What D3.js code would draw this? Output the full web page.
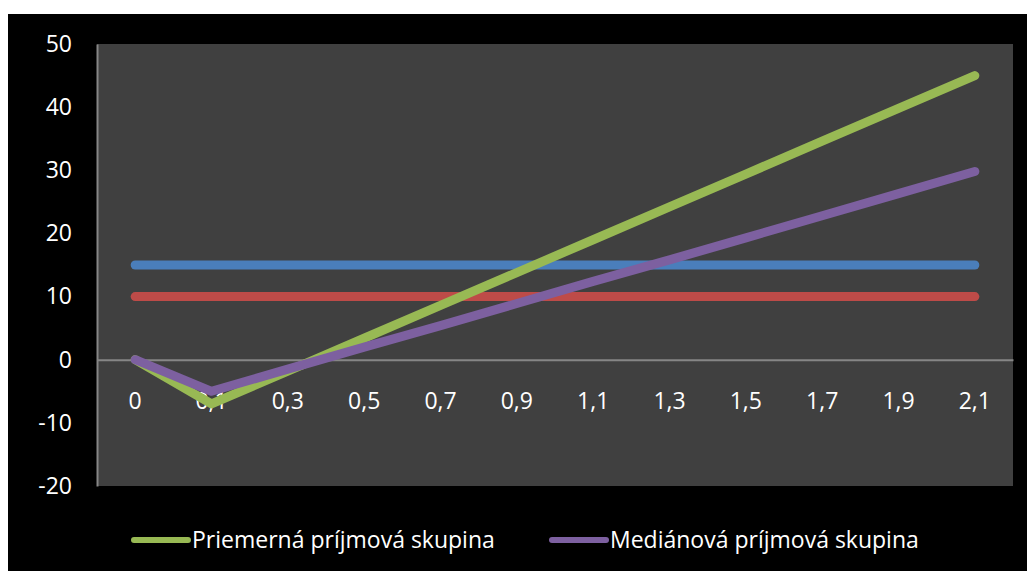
<!DOCTYPE html>
<html>
<head>
<meta charset="utf-8">
<script src="https://cdn.jsdelivr.net/npm/d3@7"></script>
<style>
html,body{margin:0;padding:0;background:#fff;}
svg{display:block;}
text{font-family:"Open Sans",sans-serif;fill:#ffffff;}
</style>
</head>
<body>
<svg id="chart" width="1027" height="571"></svg>
<script>
// ---- data ----
const categories = ["0","0,1","0,3","0,5","0,7","0,9","1,1","1,3","1,5","1,7","1,9","2,1"];
const blueValues   = [15,15,15,15,15,15,15,15,15,15,15,15];
const redValues    = [10,10,10,10,10,10,10,10,10,10,10,10];
const greenValues  = [0,-7,-1.8,3.4,8.6,13.8,19,24.2,29.4,34.6,39.8,45];
const purpleValues = [0,-5,-1.5,2,5.4,8.9,12.4,15.8,19.3,22.8,26.3,29.8];
const yTicks = [-20,-10,0,10,20,30,40,50];
const seriesNames = ["Priemerná príjmová skupina","Mediánová príjmová skupina"];

const series = [
  {key:"blue", values: blueValues, color:"#4A7EBB", legend:false},
  {key:"red", values: redValues, color:"#BE4B48", legend:false},
  {key:"green", values: greenValues, color:"#98B954", legend:true, name: seriesNames[0]},
  {key:"purple", values: purpleValues, color:"#7D60A0", legend:true, name: seriesNames[1]}
];

const FONT = "'Open Sans', sans-serif";
const svg = d3.select("#chart");
// outer black chart area
svg.append("rect").attr("x",8).attr("y",14).attr("width",1019).attr("height",557).attr("fill","#000");

const plot = {left:97, top:44, right:1013, bottom:486};

const x = d3.scaleBand().domain(categories).range([plot.left, plot.right]).paddingInner(0).paddingOuter(0);
const y = d3.scaleLinear().domain([-20,50]).range([plot.bottom, plot.top]);

svg.append("rect").attr("x",plot.left).attr("y",plot.top)
  .attr("width",plot.right-plot.left).attr("height",plot.bottom-plot.top).attr("fill","#404040");

// y axis
const yAxis = svg.append("g").attr("transform",`translate(${plot.left},0)`)
  .call(d3.axisLeft(y).tickValues(yTicks).tickSize(0).tickPadding(25).tickFormat(d=>String(d)));
yAxis.select(".domain").attr("stroke","#868686").attr("stroke-width",2);
yAxis.selectAll("text").attr("font-size",23).attr("fill","#fff").attr("font-family",FONT);

// x axis at zero
const xAxis = svg.append("g").attr("transform",`translate(0,${y(0)})`)
  .call(d3.axisBottom(x).tickSize(0).tickPadding(33));
xAxis.select(".domain").attr("stroke","#868686").attr("stroke-width",2);
xAxis.selectAll("text").attr("font-size",23).attr("fill","#fff").attr("font-family",FONT);

// lines
const line = d3.line()
  .x((d,i)=>x(categories[i]) + x.bandwidth()/2)
  .y(d=>y(d));

svg.append("g").selectAll("path").data(series).join("path")
  .attr("d",d=>line(d.values))
  .attr("fill","none")
  .attr("stroke",d=>d.color)
  .attr("stroke-width",9)
  .attr("stroke-linecap","round")
  .attr("stroke-linejoin","round");

// legend
const legendItems = series.filter(s=>s.legend);
const legendX = [134, 552];
const lg = svg.append("g").selectAll("g").data(legendItems).join("g")
  .attr("transform",(d,i)=>`translate(${legendX[i]},540)`);
lg.append("line").attr("x1",0).attr("x2",54).attr("y1",0).attr("y2",0)
  .attr("stroke",d=>d.color).attr("stroke-width",6).attr("stroke-linecap","round");
lg.append("text").attr("x",58).attr("y",0).attr("dy","0.35em")
  .attr("font-size",23).attr("font-family",FONT).text(d=>d.name);
</script>
</body>
</html>
